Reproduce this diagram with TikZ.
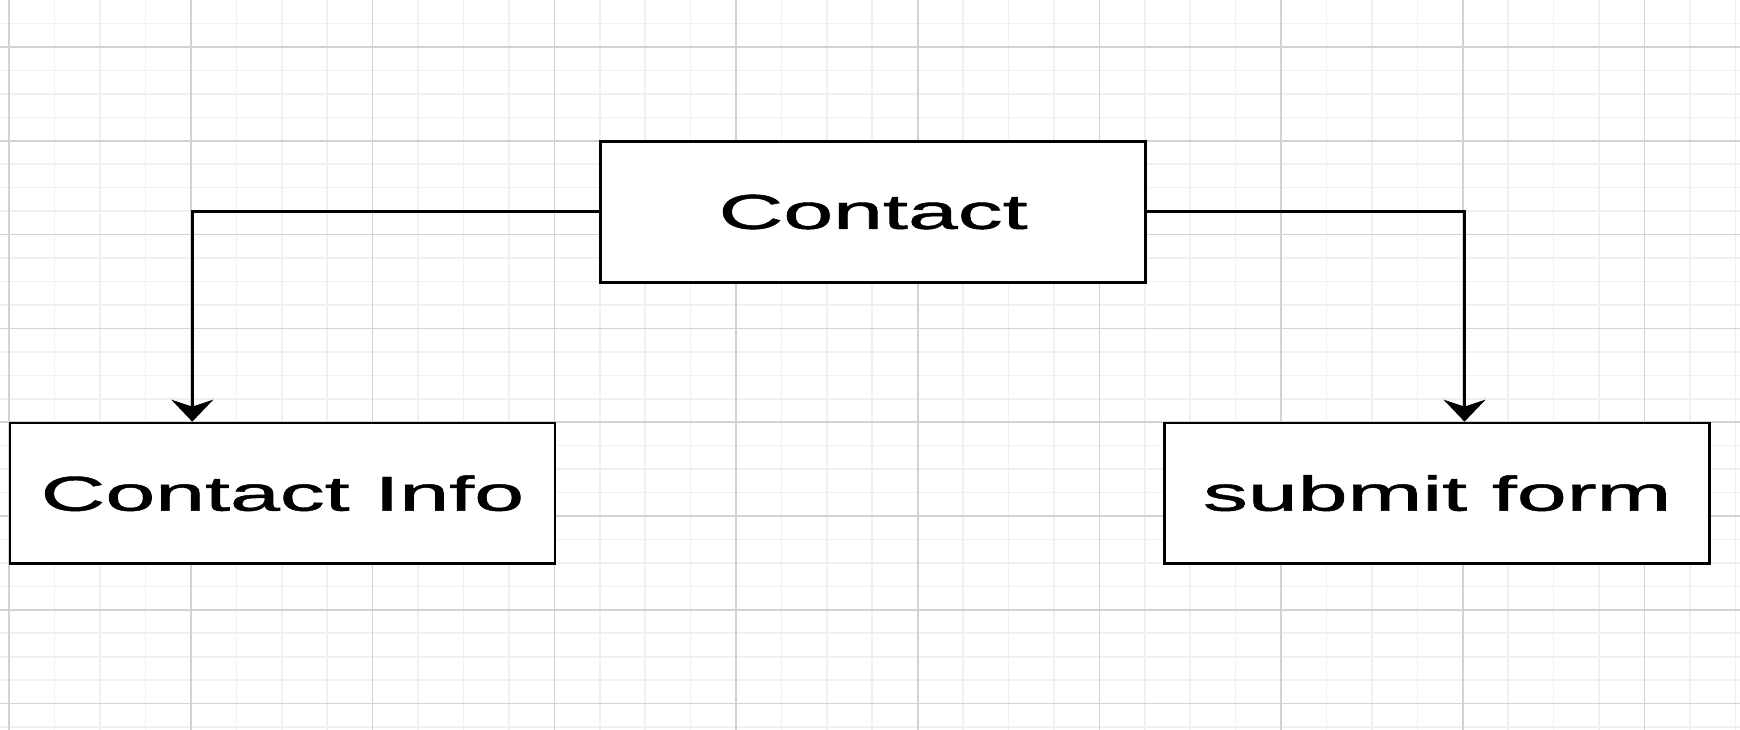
\documentclass[tikz,border=0pt]{standalone}
\usepackage{fontspec}
\setmainfont{Liberation Sans}
\newfontfamily\boxfont[FakeBold=0.9]{Liberation Sans}
\usetikzlibrary{arrows.meta}
\definecolor{gridmajor}{HTML}{D2D2D2}
\definecolor{gridminor}{HTML}{F0F0F0}
\begin{document}
\begin{tikzpicture}[x=1pt,y=-1pt,
  box/.style={draw=black, line width=2.6pt, fill=white, minimum width=545pt, minimum height=140.5pt, inner sep=0pt},
  conn/.style={draw=black, line width=2.6pt, -{Stealth[length=22pt,width=42pt,inset=7pt]}},
  minorline/.style={draw=gridminor, line width=1.6pt},
  majorline/.style={draw=gridmajor, line width=1.6pt}]
\useasboundingbox (0,0) rectangle (1740,730);
\fill[white] (0,0) rectangle (1740,730);
% minor grid
\foreach \k in {0,...,38} {
  \draw[minorline] ({9.2+45.425*\k},0) -- ({9.2+45.425*\k},730);
}
\foreach \k in {-1,...,29} {
  \draw[minorline] (0,{47+23.45*\k}) -- (1740,{47+23.45*\k});
}
% major grid
\foreach \k in {0,...,9} {
  \draw[majorline] ({9.2+181.7*\k},0) -- ({9.2+181.7*\k},730);
}
\foreach \k in {0,...,7} {
  \draw[majorline] (0,{47+93.8*\k}) -- (1740,{47+93.8*\k});
}
% nodes
\node[box] (contact) at (873.1,212) {\scalebox{1.83}[1]{\boxfont\fontsize{49}{49}\selectfont Contact}};
\node[box] (info) at (282.4,493.2) {\scalebox{1.83}[1]{\boxfont\fontsize{49}{49}\selectfont Contact Info}};
\node[box] (submit) at (1437.2,493.2) {\scalebox{1.83}[1]{\boxfont\fontsize{49}{49}\selectfont submit form}};
% connectors
\coordinate (lc) at (192.3,211.5);
\coordinate (rc) at (1464.5,211.5);
\draw[conn] (contact.west |- lc) -- (lc) -- (lc |- info.north);
\draw[conn] (contact.east |- rc) -- (rc) -- (rc |- submit.north);
\end{tikzpicture}
\end{document}
